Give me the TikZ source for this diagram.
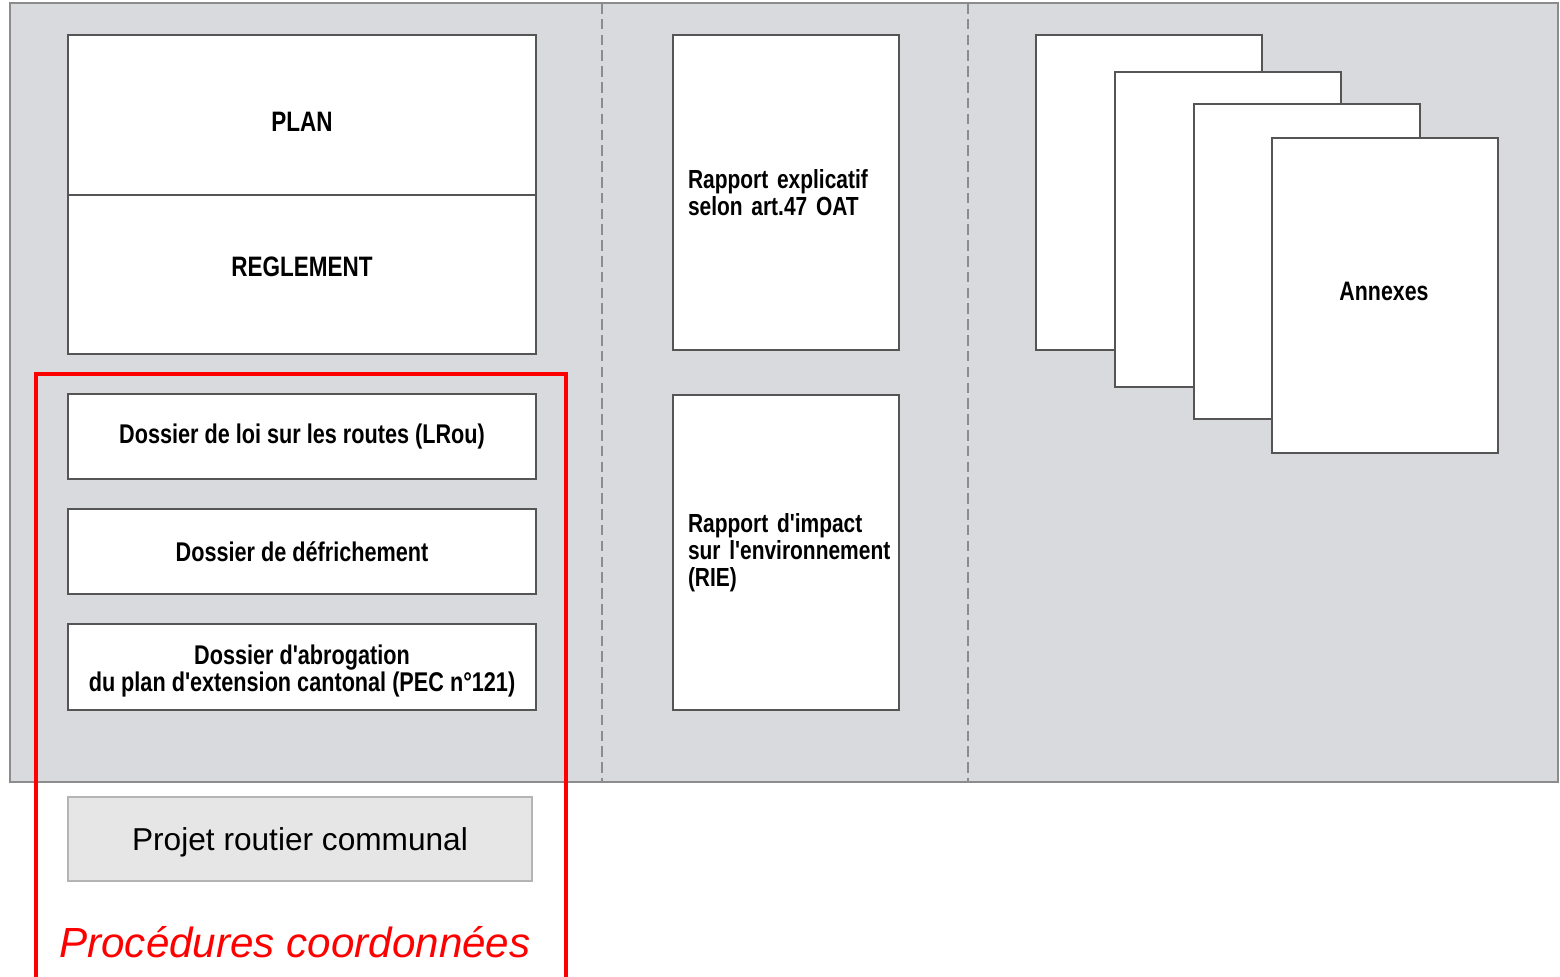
\documentclass[tikz,border=0pt]{standalone}
\usepackage{fontspec}
\usetikzlibrary{positioning}
\newfontfamily\condfont[FakeStretch=0.8]{Liberation Sans}
\newfontfamily\arialfont{Liberation Sans}
\definecolor{PanelGray}{HTML}{D9DADE}
\definecolor{PanelEdge}{HTML}{8C8C8C}
\definecolor{BoxEdge}{HTML}{555555}
\definecolor{ProjetGray}{HTML}{E6E6E6}
\definecolor{ProjetEdge}{HTML}{B4B4B4}
\definecolor{ProcRed}{HTML}{FF0000}

\begin{document}
\begin{tikzpicture}[
    sheet/.style={draw=BoxEdge,line width=0.6pt,fill=white,inner sep=0pt,outer sep=0pt,
      font=\condfont\bfseries\fontsize{7.7}{8}\selectfont,align=center},
    rapport/.style={sheet,minimum width=2.26cm,minimum height=3.15cm,
      text width=1.96cm,inner xsep=0.15cm,align=left,
      font=\condfont\bfseries\fontsize{7.45}{7.7}\selectfont}]
  \useasboundingbox (0,0) rectangle (15.6,-9.77);
  % folder
  \draw[PanelEdge,line width=0.6pt,fill=PanelGray] (0.10,-0.03) rectangle (15.58,-7.82);
  \draw[PanelEdge,line width=0.5pt,dash pattern=on 3pt off 1.5pt] (6.02,-0.03) -- (6.02,-7.82);
  \draw[PanelEdge,line width=0.5pt,dash pattern=on 3pt off 1.5pt] (9.68,-0.03) -- (9.68,-7.82);

  % left part
  \node[sheet,minimum width=4.68cm,minimum height=1.6cm,
        font=\condfont\bfseries\fontsize{8}{9}\selectfont] (plan) at (3.02,-1.15)
        {\raisebox{-0.07cm}[\height][\depth]{PLAN}};
  \node[sheet,minimum width=4.68cm,minimum height=1.59cm,below=0pt of plan,
        font=\condfont\bfseries\fontsize{8}{9}\selectfont] (reglement)
        {\raisebox{0.08cm}[\height][\depth]{REGLEMENT}};
  \node[sheet,minimum width=4.68cm,minimum height=0.85cm] (lrou) at (3.02,-4.365)
        {Dossier de loi sur les routes (LRou)};
  \node[sheet,minimum width=4.68cm,minimum height=0.85cm,below=0.3cm of lrou] (defr)
        {Dossier de d\'efrichement};
  \node[sheet,minimum width=4.68cm,minimum height=0.86cm,below=0.3cm of defr,
        font=\condfont\bfseries\fontsize{7.7}{7.9}\selectfont] (abrog)
        {\raisebox{-0.04cm}[\height][\depth]{Dossier d'abrogation}\\
         \raisebox{-0.04cm}[\height][\depth]{du plan d'extension cantonal (PEC n\textdegree121)}};
  \node[draw=ProjetEdge,fill=ProjetGray,line width=0.6pt,inner sep=0pt,
        minimum width=4.64cm,minimum height=0.84cm,
        font=\arialfont\fontsize{9}{11}\selectfont] (projet) at (3.00,-8.39)
        {\raisebox{-0.03cm}[\height][\depth]{Projet routier communal}};

  % middle part
  \node[rapport] (rexpl) at (7.86,-1.925) {Rapport explicatif\\selon art.47 OAT};
  \node[rapport] (rie) at (7.86,-5.525) {Rapport d'impact\\sur~l'environnement\\(RIE)};

  % annexes
  \node[sheet,minimum width=2.26cm,minimum height=3.15cm] (ann1) at (11.49,-1.925) {};
  \node[sheet,minimum width=2.26cm,minimum height=3.15cm] (ann2) at (12.28,-2.295) {};
  \node[sheet,minimum width=2.26cm,minimum height=3.15cm] (ann3) at (13.07,-2.615) {};
  \node[sheet,minimum width=2.26cm,minimum height=3.15cm] (ann4) at (13.85,-2.955) {};
  \node[font=\condfont\bfseries\fontsize{7.6}{8}\selectfont] (annexes) at (13.84,-2.91) {Annexes};

  % coordinated procedures
  \draw[ProcRed,line width=1.1pt] (0.36,-9.85) |- (5.66,-3.74) -- (5.66,-9.85);
  \node[ProcRed,font=\arialfont\itshape\fontsize{12}{14}\selectfont] (proc) at (2.95,-9.42)
        {Proc\'edures coordonn\'ees};
\end{tikzpicture}
\end{document}
